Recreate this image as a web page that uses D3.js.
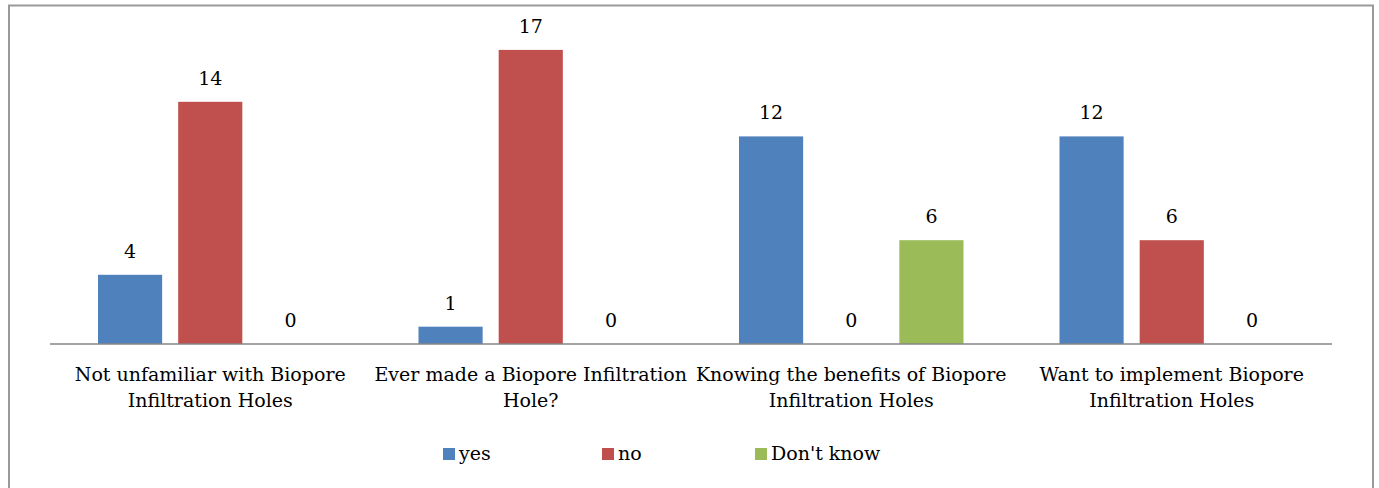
<!DOCTYPE html>
<html>
<head>
<meta charset="utf-8">
<script src="https://cdn.jsdelivr.net/npm/d3@7"></script>
<style>
  body { margin: 0; background: #fff; }
  text { font-family: "DejaVu Serif", serif; fill: #000; }
</style>
</head>
<body>
<div id="chart"></div>
<script>
const WIDTH = 1379, HEIGHT = 488;

const categories = [
  ["Not unfamiliar with Biopore", "Infiltration Holes"],
  ["Ever made a Biopore Infiltration", "Hole?"],
  ["Knowing the benefits of Biopore", "Infiltration Holes"],
  ["Want to implement Biopore", "Infiltration Holes"]
];
const series = ["yes", "no", "Don't know"];
const yes = [4, 1, 12, 12];
const no = [14, 17, 0, 6];
const dontKnow = [0, 0, 6, 0];
const colors = ["#4F81BD", "#C0504D", "#9BBB59"];

const values = [yes, no, dontKnow];

const LEFT = 50, RIGHT = 1332, BASE = 344;

const svg = d3.select("#chart").append("svg").attr("width", WIDTH).attr("height", HEIGHT);

// frame
svg.append("path").attr("d", "M9," + HEIGHT + " V5.5 H1373 V" + HEIGHT)
  .attr("fill", "none").attr("stroke", "#9a9a9a").attr("stroke-width", 2);

const x0 = d3.scaleBand().domain(d3.range(categories.length)).range([LEFT, RIGHT]).paddingInner(0).paddingOuter(0);
const x1 = d3.scaleBand().domain(d3.range(series.length)).range([48, x0.bandwidth() - 48]).paddingInner(0.2);
const y = d3.scaleLinear().domain([0, 20]).range([BASE, BASE - 346]);

const groups = svg.selectAll("g.grp").data(categories).enter().append("g")
  .attr("class", "grp").attr("transform", (d, i) => "translate(" + x0(i) + ",0)");

groups.each(function(cat, i) {
  const g = d3.select(this);
  series.forEach((s, j) => {
    const v = values[j][i];
    if (v > 0) {
      g.append("rect").attr("x", x1(j)).attr("y", y(v)).attr("width", x1.bandwidth())
        .attr("height", y(0) - y(v)).attr("fill", colors[j]);
    }
    g.append("text").attr("x", x1(j) + x1.bandwidth() / 2).attr("y", y(v) - 17)
      .attr("text-anchor", "middle").attr("font-size", 19).text(v);
  });
  cat.forEach((line, k) => {
    g.append("text").attr("x", x0.bandwidth() / 2).attr("y", 381 + k * 26)
      .attr("text-anchor", "middle").attr("font-size", 19).text(line);
  });
});

// baseline
svg.append("line").attr("x1", LEFT).attr("x2", RIGHT).attr("y1", BASE).attr("y2", BASE)
  .attr("stroke", "#868686").attr("stroke-width", 1.5);

// legend
const legendX = [443, 602, 755];
series.forEach((s, j) => {
  const lg = svg.append("g").attr("transform", "translate(" + legendX[j] + ",448)");
  lg.append("rect").attr("width", 12).attr("height", 12).attr("fill", colors[j]);
  lg.append("text").attr("x", 16).attr("y", 12).attr("font-size", 19).text(s);
});
</script>
</body>
</html>
